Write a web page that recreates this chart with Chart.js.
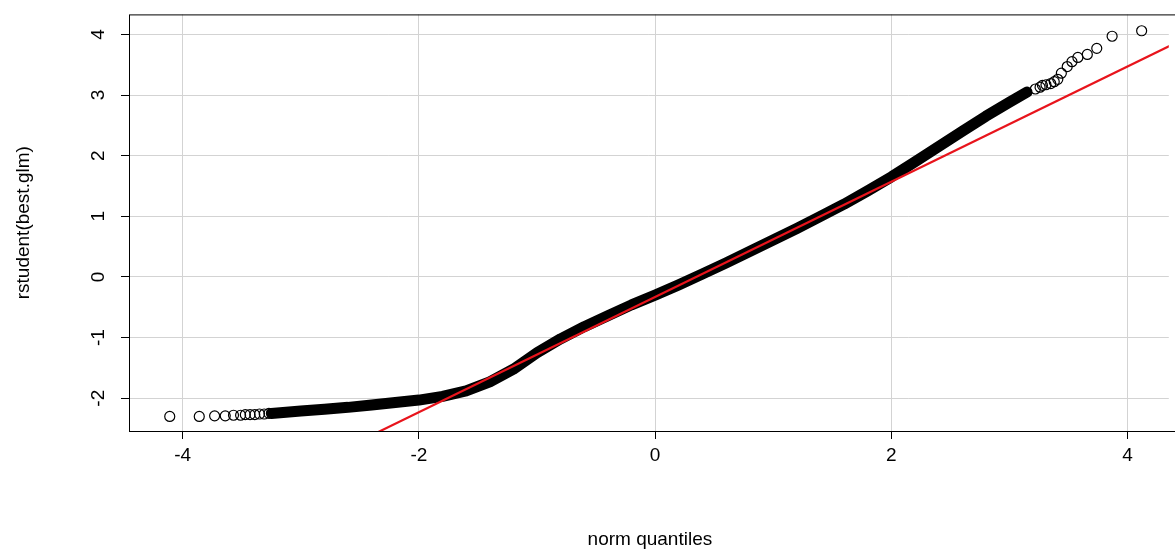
<!DOCTYPE html>
<html>
<head>
<meta charset="utf-8">
<script src="https://cdn.jsdelivr.net/npm/chart.js@4.4.0/dist/chart.umd.min.js"></script>
<style>
  html, body { margin: 0; padding: 0; background: #fff; }
  #wrap { width: 1175px; height: 554px; }
</style>
</head>
<body>
<div id="wrap"><canvas id="myChart"></canvas></div>
<script>
// quantiles normales teóricos vs rstudent
const colaIzqX = [-4.11, -3.86, -3.73, -3.64, -3.57, -3.51, -3.47, -3.43, -3.39, -3.35, -3.31, -3.27];
const colaIzqY = [-2.30, -2.30, -2.29, -2.29, -2.28, -2.28, -2.27, -2.27, -2.27, -2.26, -2.26, -2.25];

const cuerpoX = [-3.25, -3.0, -2.8, -2.6, -2.4, -2.2, -2.0, -1.8, -1.6, -1.4, -1.2, -1.0, -0.8, -0.6, -0.4, -0.2,
                 0, 0.2, 0.4, 0.6, 0.8, 1.0, 1.2, 1.4, 1.6, 1.8, 2.0, 2.2, 2.4, 2.6, 2.8, 3.0, 3.15];
const cuerpoY = [-2.25, -2.21, -2.18, -2.15, -2.11, -2.07, -2.03, -1.97, -1.88, -1.73, -1.52, -1.25, -1.02, -0.82, -0.64, -0.46,
                 -0.30, -0.13, 0.05, 0.23, 0.42, 0.61, 0.80, 1.00, 1.20, 1.42, 1.65, 1.90, 2.15, 2.40, 2.65, 2.88, 3.05];

const colaDerX = [3.22, 3.26, 3.28, 3.31, 3.35, 3.38, 3.41, 3.44, 3.49, 3.53, 3.58, 3.66, 3.74, 3.87, 4.12];
const colaDerY = [3.10, 3.13, 3.16, 3.17, 3.19, 3.22, 3.26, 3.36, 3.47, 3.55, 3.62, 3.67, 3.77, 3.97, 4.06];

const lineaIntercepto = -0.33;
const lineaPendiente = 0.95;
const lineaX = [-2.6, 4.5];

const ticksX = [-4, -2, 0, 2, 4];
const ticksY = [-2, -1, 0, 1, 2, 3, 4];

function pares(xs, ys) {
    return xs.map((x, i) => ({ x: x, y: ys[i] }));
}

const fuente = '"Liberation Sans", Arial, sans-serif';

// Plugin: caja, etiquetas rotadas del eje y y títulos de ejes
const decoracion = {
    id: 'decoracion',
    afterDraw(chart) {
        const ctx = chart.ctx;
        const a = chart.chartArea;
        const sy = chart.scales.y;
        ctx.save();
        ctx.strokeStyle = '#000';
        ctx.lineWidth = 1;
        ctx.strokeRect(a.left + 0.5, a.top + 0.5, a.right - a.left + 10, a.bottom - a.top);
        ctx.fillStyle = '#000';
        ctx.font = '19px ' + fuente;
        ctx.textAlign = 'center';
        ctx.textBaseline = 'middle';
        ticksY.forEach(v => {
            const py = sy.getPixelForValue(v);
            ctx.save();
            ctx.translate(a.left - 30, py);
            ctx.rotate(-Math.PI / 2);
            ctx.fillText(String(v), 0, 0);
            ctx.restore();
        });
        ctx.fillText('norm quantiles', (a.left + a.right) / 2 + 1, 540);
        ctx.save();
        ctx.translate(24, (a.top + a.bottom) / 2);
        ctx.rotate(-Math.PI / 2);
        ctx.fillText('rstudent(best.glm)', 0, 0);
        ctx.restore();
        ctx.restore();
    }
};

function crearGrafico() {
    const ctx = document.getElementById('myChart').getContext('2d');
    new Chart(ctx, {
        type: 'scatter',
        data: {
            datasets: [
                {
                    data: lineaX.map(x => ({ x: x, y: lineaIntercepto + lineaPendiente * x })),
                    showLine: true, borderColor: '#e8141c', borderWidth: 2.2, pointRadius: 0, order: 0
                },
                {
                    data: pares(cuerpoX, cuerpoY),
                    showLine: true, borderColor: '#000', borderWidth: 11, borderCapStyle: 'round',
                    borderJoinStyle: 'round', pointRadius: 0, order: 1
                },
                {
                    data: pares(colaIzqX, colaIzqY).concat(pares(colaDerX, colaDerY)),
                    showLine: false, pointRadius: 5, pointBorderColor: '#000', pointBackgroundColor: 'rgba(0,0,0,0)',
                    pointBorderWidth: 1.2, order: 2
                }
            ]
        },
        options: {
            responsive: true,
            maintainAspectRatio: false,
            animation: false,
            layout: { padding: { top: 13, right: 0, bottom: 0, left: 0 } },
            scales: {
                x: {
                    type: 'linear', min: -4.455, max: 4.35,
                    afterBuildTicks: s => { s.ticks = ticksX.map(v => ({ value: v })); },
                    afterFit: s => { s.height = 123; },
                    border: { display: false },
                    grid: { color: '#d3d3d3', tickColor: '#000', tickLength: 8, lineWidth: 1 },
                    ticks: { color: '#000', font: { family: fuente, size: 19 }, padding: 5, maxRotation: 0 }
                },
                y: {
                    type: 'linear', min: -2.54, max: 4.33,
                    afterBuildTicks: s => { s.ticks = ticksY.map(v => ({ value: v })); },
                    afterFit: s => { s.width = 129; },
                    border: { display: false },
                    grid: { color: '#d3d3d3', tickColor: '#000', tickLength: 8, lineWidth: 1 },
                    ticks: { color: 'rgba(0,0,0,0)', font: { family: fuente, size: 19 } }
                }
            },
            plugins: {
                legend: { display: false },
                tooltip: { enabled: false }
            }
        },
        plugins: [decoracion]
    });
}

crearGrafico();
</script>
</body>
</html>
